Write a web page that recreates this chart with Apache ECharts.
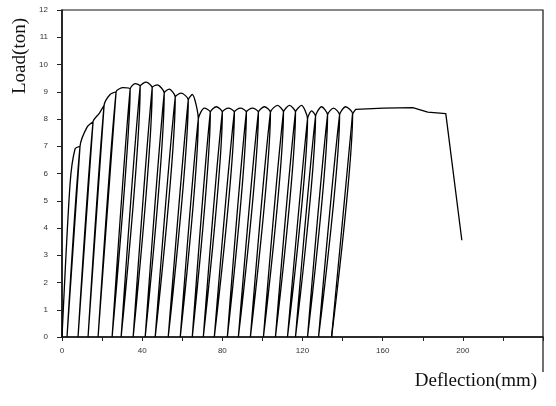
<!DOCTYPE html>
<html>
<head>
<meta charset="utf-8">
<script src="https://cdn.jsdelivr.net/npm/echarts@6/dist/echarts.min.js"></script>
<style>
html, body { margin: 0; padding: 0; background: #fff; }
#chart { width: 556px; height: 406px; }
</style>
</head>
<body>
<div id="chart"></div>
<script>
// residual deflection (mm) where each loading leg starts at zero load
var residualDefl = [0, 2.5, 8, 13, 18, 25, 29.5, 35.5, 41.5, 46.5, 53, 59, 65, 70.5, 76,
	82.5, 88, 94, 100.5, 106.5, 112.5, 116.5, 122.5, 128, 134.5];
// top of each loading leg
var legTopDefl = [4, 9, 15.5, 21, 27, 34, 39, 45, 51, 56.5, 63, 68, 74, 80, 86,
	92, 98, 104, 110.5, 116.5, 122.5, 126.5, 132.5, 138.5, 145];
var legTopLoad = [5.6, 7.0, 7.9, 8.5, 9.0, 9.1, 9.2, 9.15, 8.95, 8.8, 8.7, 8.0, 8.25, 8.25, 8.25,
	8.25, 8.25, 8.25, 8.25, 8.25, 8.0, 8.1, 8.15, 8.15, 8.2];
// crown of each cycle arch
var crownDefl = [6.5, 12.5, 18.5, 24, 30.5, 36.5, 42, 47.5, 53.5, 59.5, 65, 71, 77, 83,
	89, 95, 101, 107.5, 113.5, 119.5, 124.5, 129.5, 135.5, 141.5];
var crownLoad = [6.9, 7.7, 8.2, 8.9, 9.15, 9.3, 9.35, 9.25, 9.1, 8.95, 8.9, 8.4, 8.45, 8.4,
	8.4, 8.4, 8.45, 8.5, 8.5, 8.5, 8.3, 8.45, 8.4, 8.45];
// monotonic tail after last reload
var tailDefl = [146.5, 160.5, 175, 182.5, 191.5, 199.5];
var tailLoad = [8.35, 8.4, 8.42, 8.25, 8.2, 3.55];

var xTicks = [0, 40, 80, 120, 160, 200];

var n = residualDefl.length;
var cycles = [];
for (var i = 0; i < n - 1; i++) {
	cycles.push([residualDefl[i], 0]);
	cycles.push([legTopDefl[i], legTopLoad[i]]);
	cycles.push([crownDefl[i], crownLoad[i]]);
	cycles.push([legTopDefl[i + 1], legTopLoad[i + 1]]);
}
cycles.push([residualDefl[n - 1], 0]);

var tail = [[residualDefl[n - 1], 0], [legTopDefl[n - 1], legTopLoad[n - 1]]];
for (var j = 0; j < tailDefl.length; j++) {
	tail.push([tailDefl[j], tailLoad[j]]);
}

var chart = echarts.init(document.getElementById('chart'));
var option = {
	animation: false,
	backgroundColor: '#fff',
	grid: {
		left: 62, right: 13, top: 10, bottom: 69,
		show: true, borderColor: '#111', borderWidth: 1.2
	},
	xAxis: {
		type: 'value', min: 0, max: 240, interval: 20,
		axisLine: { lineStyle: { color: '#111', width: 1.5 } },
		axisTick: { show: true, length: 4, lineStyle: { color: '#222' } },
		axisLabel: {
			fontSize: 8, color: '#333', margin: 10,
			formatter: function (v) { return xTicks.indexOf(v) >= 0 ? String(v) : ''; }
		},
		splitLine: { show: false }
	},
	yAxis: {
		type: 'value', min: 0, max: 12, interval: 1,
		axisLine: { show: true, lineStyle: { color: '#111', width: 1.5 } },
		axisTick: { show: true, length: 5, lineStyle: { color: '#222' } },
		axisLabel: { fontSize: 8, color: '#333', margin: 14 },
		splitLine: { show: false }
	},
	graphic: [
		{
			type: 'text', x: 20, y: 56, rotation: Math.PI / 2,
			style: {
				text: 'Load(ton)', font: '19px "Liberation Serif"', fill: '#111',
				textAlign: 'center', textVerticalAlign: 'middle'
			}
		},
		{
			type: 'text', x: 476, y: 381,
			style: {
				text: 'Deflection(mm)', font: '19px "Liberation Serif"', fill: '#111',
				textAlign: 'center', textVerticalAlign: 'middle'
			}
		},
		{
			type: 'line', shape: { x1: 543, y1: 337, x2: 543, y2: 372 },
			style: { stroke: '#111', lineWidth: 1.2 }
		}
	],
	series: [{
		type: 'line',
		data: cycles,
		showSymbol: false,
		smooth: 0.25,
		lineStyle: { color: '#000', width: 1.3 }
	}, {
		type: 'line',
		data: tail,
		showSymbol: false,
		lineStyle: { color: '#000', width: 1.3 }
	}]
};
chart.setOption(option);
</script>
</body>
</html>
